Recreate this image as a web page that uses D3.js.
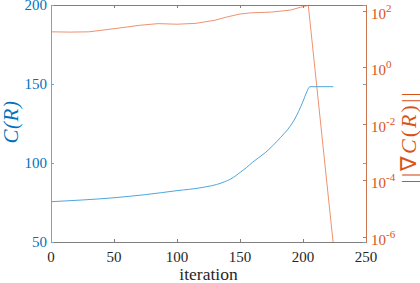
<!DOCTYPE html>
<html>
<head>
<meta charset="utf-8">
<script src="https://cdn.jsdelivr.net/npm/d3@7"></script>
<style>
  body { margin: 0; background: #fff; }
</style>
</head>
<body>
<div id="chart"></div>
<script>
    // cost C(R) per iteration (left axis)
    var costIter = [0, 25, 50, 75, 100, 120, 135, 145, 150, 155, 160, 170, 182, 190, 193, 200, 203, 205.5, 224];
    var costVal = [75.5, 76.6, 78, 80, 82.5, 84.5, 87.3, 91, 94, 97, 100.5, 106.5, 116, 123.5, 127.2, 139, 145, 148.3, 148.3];

    // gradient norm per iteration (right axis, log)
    var gradIter = [0, 15, 30, 50, 70, 85, 100, 115, 130, 140, 150, 158, 175, 190, 198, 201, 204.2, 224];
    var gradVal = [17.8, 17.4, 17.8, 22.9, 30.2, 34.7, 33.1, 35.5, 45.7, 60.3, 75.9, 83.2, 89.1, 104.7, 131.8, 141, 155, 5.6e-7];

    var xTicks = [0, 50, 100, 150, 200, 250];
    var yLeftTicks = [50, 100, 150, 200];
    var yRightExp = [-6, -4, -2, 0, 2];

(function() {
    var width = 420,
        height = 283;
    var mLeft = 51, mRight = 366, mTop = 5, mBottom = 242;

    var blue = "#0072BD",
        orange = "#D95319";
    var serif = "'Liberation Serif', 'Times New Roman', Times, serif";

    var svg = d3.select("#chart")
        .append("svg")
        .attr("width", width)
        .attr("height", height)
        .attr("font-family", serif);

    var x = d3.scaleLinear().domain([0, 250]).range([mLeft, mRight]);
    var yL = d3.scaleLinear().domain([50, 200]).range([mBottom, mTop]);
    var yR = d3.scaleLog().domain([Math.pow(10, -6.19), Math.pow(10, 2.2)]).range([mBottom, mTop]);

    svg.append("clipPath").attr("id", "clip")
        .append("rect")
        .attr("x", mLeft).attr("y", mTop)
        .attr("width", mRight - mLeft).attr("height", mBottom - mTop);

    // lines
    var costLine = d3.line()
        .x(function(d, i) { return x(costIter[i]); })
        .y(function(d) { return yL(d); })
        .curve(d3.curveMonotoneX);

    var gradLine = d3.line()
        .x(function(d, i) { return x(gradIter[i]); })
        .y(function(d) { return yR(d); });

    var plot = svg.append("g").attr("clip-path", "url(#clip)");

    plot.append("path")
        .attr("d", gradLine(gradVal))
        .attr("fill", "none")
        .attr("stroke", "#EE9270")
        .attr("stroke-width", 1);

    plot.append("path")
        .attr("d", costLine(costVal))
        .attr("fill", "none")
        .attr("stroke", "#4FA6DD")
        .attr("stroke-width", 1);

    // box: top & bottom grey
    var axes = svg.append("g");
    axes.append("line").attr("x1", mLeft).attr("x2", mRight).attr("y1", mTop + 0.5).attr("y2", mTop + 0.5)
        .attr("stroke", "#7f7f7f");
    axes.append("line").attr("x1", mLeft).attr("x2", mRight).attr("y1", mBottom + 0.5).attr("y2", mBottom + 0.5)
        .attr("stroke", "#7f7f7f");

    // x ticks top and bottom
    xTicks.forEach(function(t) {
        var px = Math.round(x(t)) + 0.5;
        axes.append("line").attr("x1", px).attr("x2", px).attr("y1", mBottom).attr("y2", mBottom - 3)
            .attr("stroke", "#7f7f7f");
        axes.append("line").attr("x1", px).attr("x2", px).attr("y1", mTop).attr("y2", mTop + 3)
            .attr("stroke", "#7f7f7f");
        axes.append("text")
            .attr("x", x(t))
            .attr("y", 262)
            .attr("text-anchor", "middle")
            .attr("font-size", "15px")
            .attr("fill", "#262626")
            .text(t);
    });

    // left axis
    axes.append("line").attr("x1", mLeft + 0.5).attr("x2", mLeft + 0.5).attr("y1", mTop).attr("y2", mBottom + 1)
        .attr("stroke", "#5aaee3");
    yLeftTicks.forEach(function(t) {
        var py = Math.round(yL(t)) + 0.5;
        axes.append("line").attr("x1", mLeft).attr("x2", mLeft + 3).attr("y1", py).attr("y2", py)
            .attr("stroke", "#5aaee3");
        axes.append("line").attr("x1", mRight).attr("x2", mRight - 3).attr("y1", py).attr("y2", py)
            .attr("stroke", "#5aaee3");
        axes.append("text")
            .attr("x", 47)
            .attr("y", yL(t) + 5)
            .attr("text-anchor", "end")
            .attr("font-size", "15px")
            .attr("fill", blue)
            .text(t);
    });

    // right axis
    axes.append("line").attr("x1", mRight + 0.5).attr("x2", mRight + 0.5).attr("y1", mTop).attr("y2", mBottom + 1)
        .attr("stroke", "#c9764f");
    yRightExp.forEach(function(e) {
        var py = Math.round(yR(Math.pow(10, e))) + 0.5;
        axes.append("line").attr("x1", mRight).attr("x2", mRight - 3).attr("y1", py).attr("y2", py)
            .attr("stroke", "#c9764f");
        var lab = axes.append("text")
            .attr("x", 371)
            .attr("y", yR(Math.pow(10, e)) + 8)
            .attr("font-size", "15px")
            .attr("fill", orange);
        lab.append("tspan").text("10");
        lab.append("tspan")
            .attr("dy", -7)
            .attr("font-size", "11px")
            .text(e < 0 ? "-" + (-e) : e);
    });

    // axis labels
    svg.append("text")
        .attr("x", (mLeft + mRight) / 2)
        .attr("y", 280)
        .attr("text-anchor", "middle")
        .attr("font-size", "17.5px")
        .attr("fill", "#262626")
        .text("iteration");

    svg.append("text")
        .attr("transform", "translate(18,122) rotate(-90)")
        .attr("text-anchor", "middle")
        .attr("font-size", "21px")
        .attr("letter-spacing", "0.5px")
        .attr("font-style", "italic")
        .attr("fill", blue)
        .text("C(R)");

    svg.append("text")
        .attr("transform", "translate(416,137) rotate(-90)")
        .attr("text-anchor", "middle")
        .attr("font-size", "22px")
        .attr("letter-spacing", "2px")
        .attr("fill", orange)
        .html("||∇<tspan font-style='italic'>C</tspan>(<tspan font-style='italic'>R</tspan>)||");
})();
</script>
</body>
</html>
